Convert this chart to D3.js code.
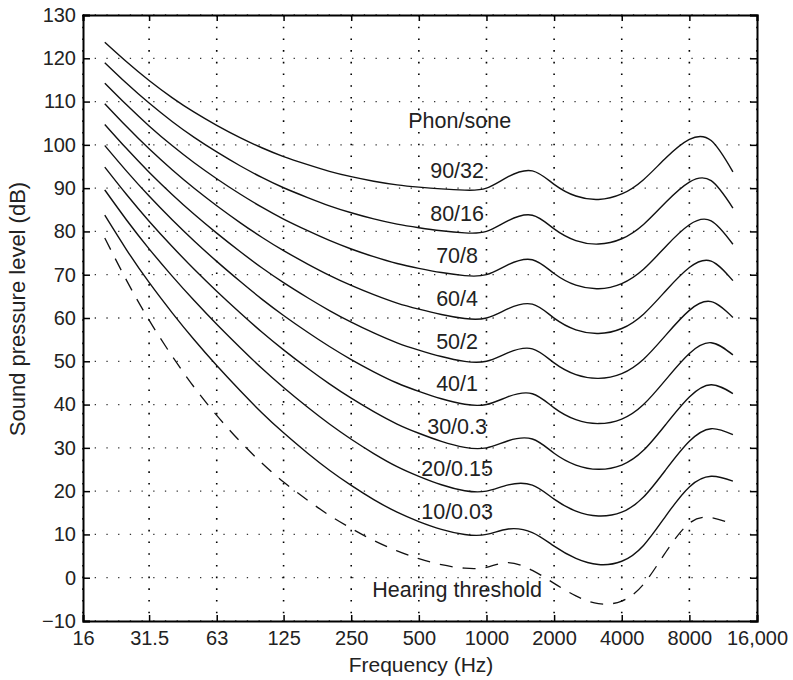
<!DOCTYPE html>
<html>
<head>
<meta charset="utf-8">
<script src="https://cdn.jsdelivr.net/npm/d3@7"></script>
<style>
  body { margin: 0; background: #fff; }
  svg { font-family: "Liberation Sans", Arial, Helvetica, sans-serif; }
</style>
</head>
<body>
<div id="chart"></div>
<script>
// DATA

var freqs = [20, 25, 31.5, 40, 50, 63, 80, 100, 125, 160, 200, 250, 315, 400, 500,
  630, 800, 1000, 1250, 1600, 2000, 2500, 3150, 4000, 5000, 6300, 8000, 10000, 12500];

var threshold = [78.5, 68.7, 59.5, 51.1, 44.0, 37.5, 31.5, 26.5, 22.1, 17.9, 14.4, 11.4, 8.6, 6.2, 4.4,
  3.0, 2.2, 2.4, 3.5, 1.7, -1.3, -4.2, -6.0, -5.4, -1.5, 6.0, 12.6, 13.9, 12.3];

var phon10 = [83.75, 75.76, 68.21, 61.14, 54.96, 49.01, 43.24, 38.13, 33.48, 28.77, 24.84, 21.33, 18.05, 15.14, 12.98,
  11.18, 9.99, 10.0, 11.26, 10.43, 7.28, 4.45, 3.04, 3.8, 7.46, 14.35, 20.98, 23.43, 22.33];
var phon20 = [89.58, 82.65, 75.98, 69.62, 64.02, 58.55, 53.19, 48.38, 43.94, 39.37, 35.51, 31.99, 28.69, 25.67, 23.43,
  21.48, 20.1, 20.01, 21.46, 21.4, 18.15, 15.38, 14.26, 15.14, 18.64, 25.02, 31.52, 34.43, 33.04];
var phon30 = [94.85, 88.52, 82.36, 76.46, 71.26, 66.2, 61.22, 56.76, 52.64, 48.38, 44.78, 41.47, 38.36, 35.5, 33.37,
  31.49, 30.11, 30.01, 31.65, 32.04, 28.76, 26.03, 25.05, 26.02, 29.42, 35.48, 41.74, 44.57, 42.55];
var phon40 = [99.85, 93.94, 88.17, 82.63, 77.79, 73.08, 68.48, 64.37, 60.59, 56.7, 53.41, 50.4, 47.58, 44.98, 43.05,
  41.34, 40.06, 40.01, 41.82, 42.51, 39.23, 36.51, 35.61, 36.65, 40.01, 45.83, 51.8, 54.29, 51.49];
var phon50 = [104.72, 99.14, 93.69, 88.49, 83.96, 79.61, 75.36, 71.61, 68.17, 64.68, 61.72, 59.04, 56.55, 54.27, 52.59,
  51.1, 49.98, 50.01, 51.99, 52.88, 49.62, 46.91, 46.05, 47.15, 50.48, 56.11, 61.76, 63.78, 60.13];
var phon60 = [109.51, 104.23, 99.08, 94.18, 89.96, 85.94, 82.05, 78.65, 75.56, 72.47, 69.86, 67.53, 65.39, 63.45, 62.05,
  60.82, 59.89, 60.01, 62.15, 63.19, 59.96, 57.26, 56.42, 57.57, 60.89, 66.36, 71.66, 73.16, 68.63];
var phon70 = [114.26, 109.25, 104.38, 99.78, 95.87, 92.18, 88.64, 85.6, 82.85, 80.17, 77.92, 75.94, 74.16, 72.58, 71.47,
  70.5, 69.78, 70.01, 72.32, 73.47, 70.28, 67.58, 66.76, 67.95, 71.26, 76.59, 81.54, 82.46, 77.04];
var phon80 = [118.99, 114.23, 109.65, 105.34, 101.72, 98.36, 95.17, 92.48, 90.09, 87.82, 85.92, 84.31, 82.89, 81.68, 80.86,
  80.17, 79.67, 80.01, 82.48, 83.74, 80.59, 77.88, 77.08, 78.31, 81.62, 86.81, 91.41, 91.74, 85.41];
var phon90 = [123.71, 119.2, 114.88, 110.87, 107.55, 104.51, 101.67, 99.33, 97.29, 95.43, 93.89, 92.65, 91.6, 90.76, 90.24,
  89.84, 89.55, 90.01, 92.65, 94.0, 90.88, 88.18, 87.38, 88.66, 91.96, 97.02, 101.26, 100.99, 93.75];

var phonLevels = [10, 20, 30, 40, 50, 60, 70, 80, 90];
var phonLabels = ["10/0.03", "20/0.15", "30/0.3", "40/1", "50/2", "60/4", "70/8", "80/16", "90/32"];

var xTicks = [16, 31.5, 63, 125, 250, 500, 1000, 2000, 4000, 8000, 16000];
var xTickLabels = ["16", "31.5", "63", "125", "250", "500", "1000", "2000", "4000", "8000", "16,000"];
var yTicks = [-10, 0, 10, 20, 30, 40, 50, 60, 70, 80, 90, 100, 110, 120, 130];

// SVG

var width = 793,
  height = 680,
  left = 83,
  right = 757,
  top_ = 15,
  bottom = 621;

var svg = d3.select("#chart").append("svg")
  .attr("width", width)
  .attr("height", height);

var xScale = d3.scaleLog().domain([16, 16000]).range([left, right]),
  yScale = d3.scaleLinear().domain([-10, 130]).range([bottom, top_]);

// Grid (dotted)
svg.append("g")
  .selectAll("line")
  .data(xTicks)
  .enter()
  .append("line")
  .attr("x1", function (d) { return xScale(d); })
  .attr("x2", function (d) { return xScale(d); })
  .attr("y1", top_)
  .attr("y2", bottom)
  .attr("stroke", "#000")
  .attr("stroke-width", 1.6)
  .attr("stroke-dasharray", "1.6,10.1");

svg.append("g")
  .selectAll("line")
  .data(yTicks)
  .enter()
  .append("line")
  .attr("x1", left)
  .attr("x2", right)
  .attr("y1", function (d) { return yScale(d); })
  .attr("y2", function (d) { return yScale(d); })
  .attr("stroke", "#333")
  .attr("stroke-width", 1.3)
  .attr("stroke-dasharray", "1.3,10.4");

// Curves
var line = d3.line()
  .x(function (d) { return xScale(d[0]); })
  .y(function (d) { return yScale(d[1]); })
  .curve(d3.curveNatural);

var curves = [phon10, phon20, phon30, phon40, phon50, phon60, phon70, phon80, phon90];

svg.append("g")
  .selectAll("path")
  .data(curves)
  .enter()
  .append("path")
  .attr("d", function (vals) { return line(d3.zip(freqs, vals)); })
  .attr("fill", "none")
  .attr("stroke", "#111")
  .attr("stroke-width", 1.4);

svg.append("path")
  .attr("d", line(d3.zip(freqs, threshold)))
  .attr("fill", "none")
  .attr("stroke", "#111")
  .attr("stroke-width", 1.3)
  .attr("stroke-dasharray", "13,10");

// Axes
svg.append("g")
  .attr("transform", "translate(0," + bottom + ")")
  .call(d3.axisBottom(xScale)
    .tickValues(xTicks)
    .tickFormat(function (d, i) { return xTickLabels[i]; })
    .tickSize(-6)
    .tickPadding(10));

svg.append("g")
  .attr("transform", "translate(0," + top_ + ")")
  .call(d3.axisTop(xScale).tickValues(xTicks).tickFormat("").tickSize(-6));

svg.append("g")
  .attr("transform", "translate(" + left + ",0)")
  .call(d3.axisLeft(yScale).tickValues(yTicks).tickSize(-7).tickPadding(7));

svg.append("g")
  .attr("transform", "translate(" + right + ",0)")
  .call(d3.axisRight(yScale).tickValues(yTicks).tickFormat("").tickSize(-7));

svg.selectAll(".domain")
  .attr("stroke", "#000")
  .attr("stroke-width", 2);
svg.selectAll(".tick line")
  .attr("stroke", "#000")
  .attr("stroke-width", 1.5);
svg.selectAll(".tick text")
  .attr("font-size", 20)
  .attr("fill", "#222");

// Labels
svg.append("g")
  .selectAll("text")
  .data(phonLevels)
  .enter()
  .append("text")
  .attr("x", xScale(740))
  .attr("y", function (d) { return yScale(d * 0.985 + 3.7); })
  .attr("text-anchor", "middle")
  .attr("font-size", 21.5)
  .attr("fill", "#222")
  .text(function (d, i) { return phonLabels[i]; });

svg.append("text")
  .attr("x", xScale(760))
  .attr("y", yScale(103.9))
  .attr("text-anchor", "middle")
  .attr("font-size", 21.5)
  .attr("fill", "#222")
  .text("Phon/sone");

svg.append("text")
  .attr("x", xScale(740))
  .attr("y", yScale(-4.4))
  .attr("text-anchor", "middle")
  .attr("font-size", 21.5)
  .attr("fill", "#222")
  .text("Hearing threshold");

svg.append("text")
  .attr("x", 421)
  .attr("y", 672)
  .attr("text-anchor", "middle")
  .attr("font-size", 21)
  .attr("fill", "#222")
  .text("Frequency (Hz)");

svg.append("text")
  .attr("transform", "translate(25,309) rotate(-90)")
  .attr("text-anchor", "middle")
  .attr("font-size", 22)
  .attr("fill", "#222")
  .text("Sound pressure level (dB)");
</script>
</body>
</html>
